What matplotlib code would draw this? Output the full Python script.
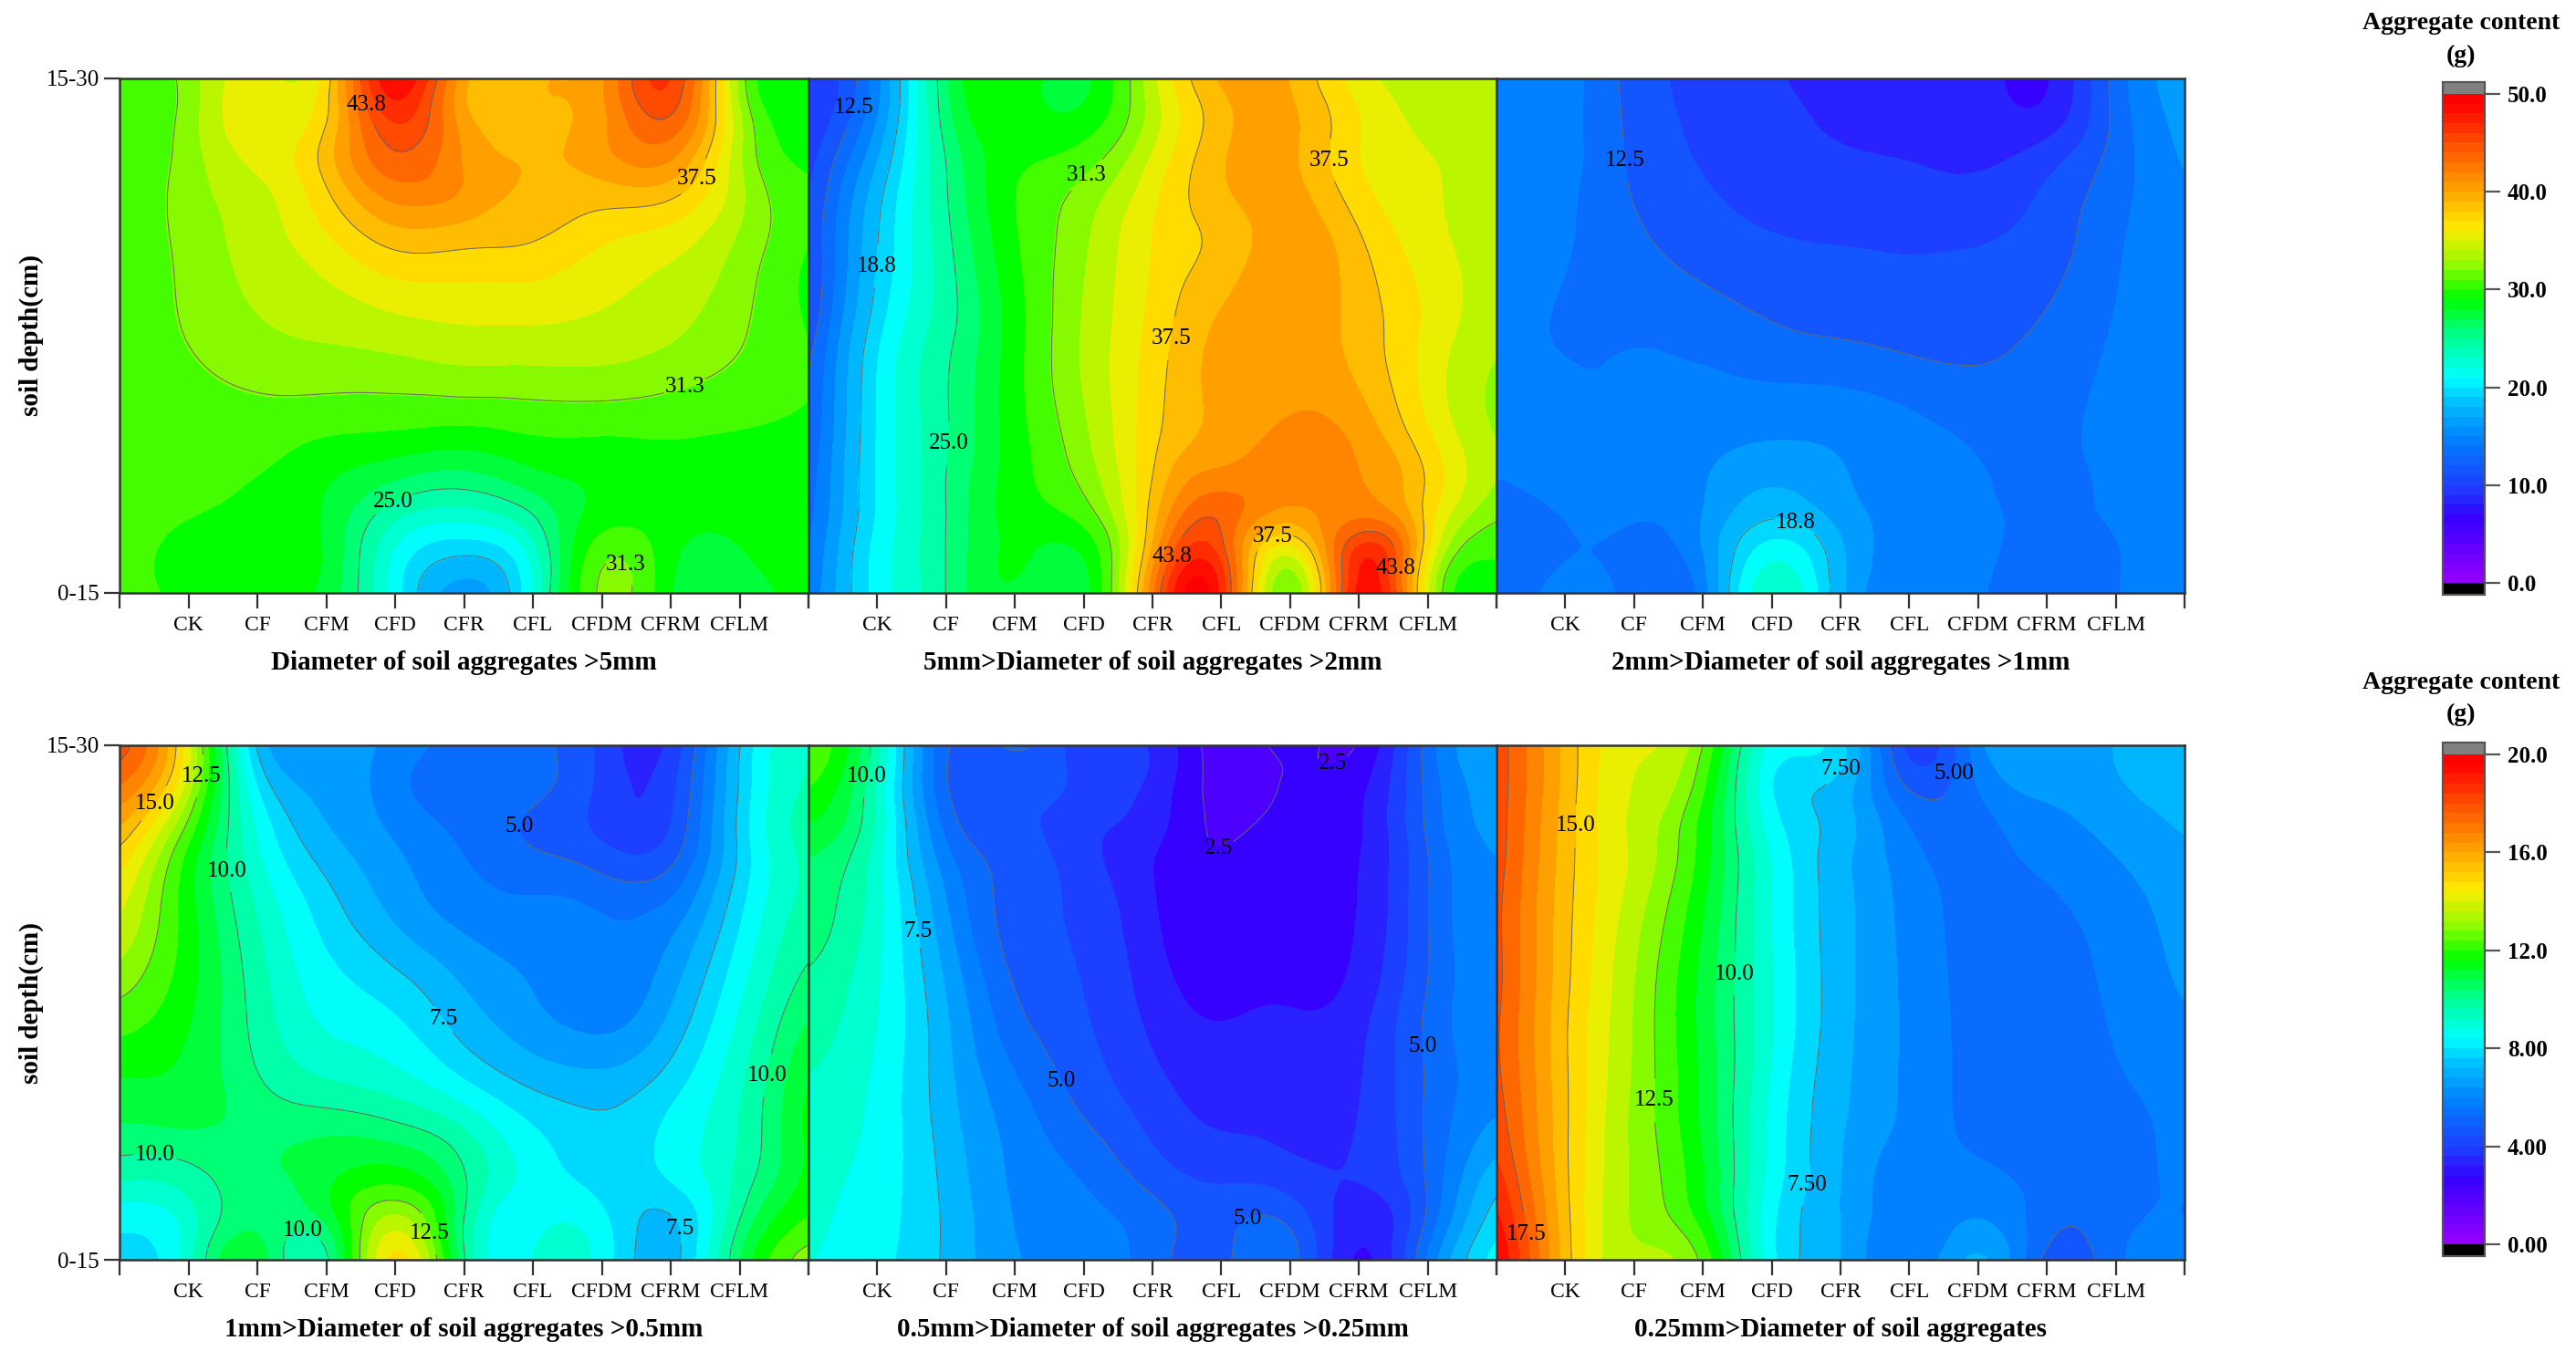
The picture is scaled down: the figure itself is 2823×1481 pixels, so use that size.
import matplotlib
matplotlib.use('Agg')
import matplotlib.pyplot as plt
import matplotlib.tri as mtri
from matplotlib.cm import ScalarMappable
from matplotlib.colors import LinearSegmentedColormap, Normalize, BoundaryNorm
import numpy as np

plt.rcParams['font.family'] = ['Liberation Serif', 'DejaVu Serif']
plt.rcParams['font.weight'] = 'bold'

W, H = 2823, 1481

treatments = ['CK', 'CF', 'CFM', 'CFD', 'CFR', 'CFL', 'CFDM', 'CFRM', 'CFLM']
depth_labels = ['0-15', '15-30']
titles = ['Diameter of soil aggregates >5mm', '5mm>Diameter of soil aggregates >2mm',
          '2mm>Diameter of soil aggregates >1mm', '1mm>Diameter of soil aggregates >0.5mm',
          '0.5mm>Diameter of soil aggregates >0.25mm', '0.25mm>Diameter of soil aggregates']

# sampled columns (0 = left edge, 1-9 treatments, 10 = right edge) and rows (0 bottom, 1 top)
col_pos = np.arange(11)
row_pos = [1.0, 0.92, 0.82, 0.68, 0.5, 0.32, 0.18, 0.08, 0.0]

grid_a = [[30, 32, 35, 36, 49, 39.5, 39, 40, 46, 32, 29],
          [30, 32, 35.5, 37, 46, 39.5, 39, 40, 44, 33, 29],
          [30, 32, 34.5, 38, 43, 40.5, 39, 39.5, 40, 33, 29.5],
          [30, 31.8, 33.5, 35.5, 38, 37.8, 37.5, 36, 35, 32.5, 29.5],
          [30, 31.4, 32.5, 33, 33.5, 34, 34, 33.8, 33, 31.5, 29.5],
          [29.8, 30.2, 30.5, 30, 29.8, 29.5, 30, 30, 30, 29.7, 29.5],
          [29.8, 29.8, 29.5, 28, 25, 24, 26, 28.5, 29, 29, 29],
          [29.8, 29.5, 29.3, 28, 21.5, 19, 22.5, 31, 28.5, 28, 29],
          [29.8, 29.5, 29, 27.5, 21, 16, 22, 32, 28, 27, 29]]

grid_b = [[9, 15, 26.5, 29.5, 27.5, 34, 39.5, 39, 35, 33.5, 33.5],
          [9.5, 15.5, 26, 29, 28.5, 33.5, 38.5, 39.5, 36, 34, 33.5],
          [10, 17.5, 25, 29.5, 31, 35, 39, 39.5, 36, 34.5, 33.5],
          [10.5, 18.8, 24.5, 29.5, 32.5, 36, 38, 40, 37.8, 35, 33.5],
          [11, 20, 24.5, 29, 33, 36.5, 39.5, 40, 38.5, 35.5, 33],
          [12, 20.5, 24.8, 29, 32.5, 37, 39.5, 41, 40, 36, 32.5],
          [12.8, 20.5, 25, 29, 31, 38, 43, 41, 41, 37, 32],
          [13.5, 21, 25, 28.5, 28, 39.5, 45, 34, 47, 36, 30],
          [14, 21, 25, 28, 27, 42, 47, 30, 49, 34, 29.5]]

grid_c = [[15.5, 14.8, 11.8, 10.5, 9.5, 9, 9, 8.7, 7.5, 13.2, 16.5],
          [15.3, 14.7, 12, 10.6, 9.7, 9.2, 9, 8.8, 8.3, 13, 16.2],
          [14.9, 14.6, 12.2, 10.9, 10, 9.7, 9.5, 9.3, 10.7, 13.3, 15.8],
          [14.6, 14.2, 12.9, 11.7, 11.1, 10.9, 10.8, 10.9, 11.7, 13.8, 15.5],
          [14.4, 14, 14, 13.6, 12.8, 12.4, 12, 11.9, 12.9, 14.2, 15.3],
          [14.2, 14.3, 14.3, 15, 15.3, 15.2, 14.5, 13.7, 13.8, 14.3, 15],
          [13.9, 14.2, 14.4, 15.5, 17.8, 16, 15.2, 14.3, 13.9, 14.2, 14.8],
          [13.4, 14, 13.6, 15.5, 21.5, 17.5, 15, 14.4, 13.6, 14, 14.6],
          [13.3, 14.5, 13.4, 14.5, 24, 17.5, 15, 14.4, 12.2, 14, 14.6]]

grid_d = [[18, 14, 7.2, 6.5, 6, 5.5, 5.2, 4.2, 3.8, 7.5, 9.4],
          [17, 13.5, 8, 6.7, 5.8, 5.3, 5.2, 4.2, 4.1, 7.6, 9.5],
          [15.5, 12, 8.7, 7, 6.2, 5.5, 4.9, 4.3, 4.4, 7.7, 9.7],
          [14, 11.5, 9.3, 7.8, 6.7, 6, 5.8, 5.6, 5.8, 8, 9.7],
          [12.5, 11.4, 9.7, 8.5, 8, 7, 6.3, 5.8, 6.8, 8.7, 10.5],
          [11, 11, 10.2, 9.7, 9.3, 8.5, 7.6, 7.3, 8, 9.3, 11.5],
          [9.8, 9.9, 10.5, 11, 11.3, 10, 8.5, 7.8, 8.3, 9.5, 11.5],
          [8.3, 9, 10.5, 10.7, 13.5, 9.9, 8.5, 8.3, 7.3, 10, 12],
          [8, 9, 11.3, 9.5, 15, 10, 8.8, 8.5, 7.1, 10.7, 13]]

grid_e = [[12.5, 9.6, 5, 5.3, 4, 3.7, 2.1, 2.8, 2.4, 5.3, 6.8],
          [12, 9.3, 4.95, 4.6, 4.2, 3.6, 2.2, 2.6, 2.9, 5.2, 6.6],
          [11, 9.2, 5.5, 4.6, 3.9, 3.3, 2.4, 2.9, 3, 5.1, 6.4],
          [10.4, 9, 6.3, 4.7, 4.2, 3.2, 2.6, 2.9, 3.1, 5, 6.3],
          [9.8, 8.8, 6.9, 5.05, 4.4, 3.5, 3, 3.1, 3.4, 5.1, 6.2],
          [9.3, 8.6, 7.1, 5.8, 4.8, 4, 3.5, 3.5, 3.7, 5.1, 6.1],
          [9, 8.5, 7.3, 6.1, 5.5, 4.6, 4.1, 3.9, 3.8, 5.1, 7.2],
          [8.9, 8.4, 7.4, 6.2, 5.8, 5.3, 4.8, 4.9, 3.2, 5.1, 8],
          [8.8, 8.3, 7.4, 6.3, 6, 5.3, 4.8, 5.4, 2.8, 5.8, 8.5]]

grid_f = [[18, 15.4, 13.9, 12.7, 8.5, 7.9, 3.9, 6.2, 6.7, 6.9, 7.3],
          [18, 15.4, 13.7, 12.1, 8, 7.3, 4.8, 5.7, 6.4, 6.8, 7.1],
          [18, 15.3, 13.6, 11.6, 8.5, 7.2, 5.7, 5.4, 5.9, 6.4, 6.9],
          [17.85, 15.2, 13.4, 11.3, 8.7, 7.1, 6, 5.4, 5.5, 5.9, 6.6],
          [17.85, 15.1, 13.1, 11, 8.8, 7.1, 6.1, 5.4, 5.4, 5.7, 6.3],
          [17.9, 15.1, 13, 11.1, 8.6, 7, 6.1, 5.4, 5.3, 5.5, 5.9],
          [18.5, 15.1, 13, 11.3, 8.5, 6.9, 5.8, 5.7, 5.3, 5.4, 5.7],
          [19.2, 15.2, 13, 11.6, 8.2, 6.9, 5.7, 6.3, 5.2, 5.4, 5.6],
          [19.7, 15.3, 13.2, 12.5, 8.2, 6.9, 5.6, 7.2, 4.6, 5.5, 5.7]]

grids = [grid_a, grid_b, grid_c, grid_d, grid_e, grid_f]

levels_top = [12.5, 18.8, 25.0, 31.3, 37.5, 43.8]
levels_bottom = [2.5, 5.0, 7.5, 10.0, 12.5, 15.0, 17.5]

# where the contour labels sit in each panel
label_spots = [
    [(3.6, .95), (8.2, .82), (8.16, .42), (4.03, .16), (7.3, .05)],
    [(.62, .945), (.95, .635), (2.1, .29), (4.13, .8), (5.5, .49), (7.54, .84),
     (5.35, .067), (6.78, .096), (8.26, .05)],
    [(1.84, .84), (4.38, .147)],
    [(.52, .885), (1.15, .94), (1.62, .757), (4.65, .463), (5.68, .843), (.52, .208),
     (2.65, .05), (4.46, .05), (8.1, .06), (9.53, .355)],
    [(.86, .94), (1.5, .636), (3.72, .35), (5.92, .725), (7.64, .95), (8.83, .415), (6.5, .05)],
    [(1.24, .843), (3.37, .556), (2.29, .31), (5.06, .95), (6.49, .95), (4.37, .15), (.5, .05)],
]

cmap = LinearSegmentedColormap.from_list('rb', [
    (0.0, (160/255, 0, 1)), (0.14, (55/255, 0, 1)), (0.2, (30/255, 60/255, 1)),
    (0.3, (0, 130/255, 1)), (0.38, (0, 200/255, 1)), (0.42, (0, 1, 1)),
    (0.5, (0, 1, 150/255)), (0.58, (0, 1, 0)), (0.65, (150/255, 250/255, 0)),
    (0.72, (1, 235/255, 0)), (0.8, (1, 160/255, 0)), (0.9, (1, 70/255, 0)),
    (0.97, (1, 0, 0)), (1.0, (1, 0, 0))], N=256)
cmap.set_over('#808080')
cmap.set_under('black')

fig = plt.figure(figsize=(W/100, H/100), dpi=100)


def px_axes(x0, y0, x1, y1):
    return fig.add_axes([x0/W, 1-y1/H, (x1-x0)/W, (y1-y0)/H])


def soften(field, sx, sy):
    # light gaussian pass so the surface has no triangle facets
    for axis, s in ((1, sx), (0, sy)):
        half = int(3*s)
        k = np.exp(-0.5*(np.arange(-half, half+1)/s)**2)
        k /= k.sum()
        pad = [(0, 0), (0, 0)]
        pad[axis] = (half, half)
        padded = np.pad(field, pad, mode='edge')
        field = np.apply_along_axis(lambda m: np.convolve(m, k, mode='valid'), axis, padded)
    return field


panel_x = [131, 886, 1640, 2394]
panel_y = [(86, 650), (817, 1381)]

X, Y = np.meshgrid(col_pos, row_pos)
tri = mtri.Triangulation(X.ravel(), Y.ravel())
xg = np.linspace(1e-6, 10-1e-6, 601)
yg = np.linspace(1e-6, 1-1e-6, 401)
xx, yy = np.meshgrid(xg, yg)

for i in range(6):
    r, c = i // 3, i % 3
    ax = px_axes(panel_x[c], panel_y[r][0], panel_x[c+1], panel_y[r][1])
    vmax = 50 if r == 0 else 20
    z = np.array(grids[i], dtype=float).ravel()
    interp = mtri.CubicTriInterpolator(tri, z, kind='min_E')
    zz = soften(np.asarray(interp(xx, yy)), 12, 8)

    fill_levels = np.linspace(0, vmax, 33)
    ax.contourf(xg, yg, zz, levels=fill_levels, cmap=cmap,
                norm=Normalize(0, vmax), extend='both')
    lines = levels_top if r == 0 else levels_bottom
    lines = [v for v in lines if zz.min() < v < zz.max()]
    cs = ax.contour(xg, yg, zz, levels=lines, colors='#666666', linewidths=0.7)
    fmt = {v: '%.1f' % v for v in lines}
    if i == 5:
        fmt[7.5] = '7.50'
        fmt[5.0] = '5.00'
    labs = ax.clabel(cs, manual=label_spots[i], inline=True, inline_spacing=2, fmt=fmt,
                     fontsize=18, colors='black')
    for t in labs:
        t.set_rotation(0)
        t.set_fontweight('normal')

    ax.set_xlim(0, 10)
    ax.set_ylim(0, 1)
    ax.set_xticks(col_pos)
    ax.set_xticklabels([''] + treatments + [''], fontsize=17, fontweight='normal')
    ax.tick_params(axis='x', length=12, width=1.6, color='#333333', pad=6)
    if c == 0:
        ax.set_yticks([0, 1])
        ax.set_yticklabels(depth_labels, fontsize=18, fontweight='normal')
        ax.tick_params(axis='y', length=12, width=1.6, color='#333333', pad=4)
        ax.set_ylabel('soil depth(cm)', fontsize=21, fontweight='bold', labelpad=2)
    else:
        ax.set_yticks([])
    for s in ax.spines.values():
        s.set_linewidth(1.8)
        s.set_color('#333333')
    ax.set_xlabel(titles[i], fontsize=21, fontweight='bold', labelpad=12)

# colour bars on the right
cbar_spots = [(90, 652, 50, [0, 10, 20, 30, 40, 50], ['0.0', '10.0', '20.0', '30.0', '40.0', '50.0'], 26),
              (814, 1377, 20, [0, 4, 8, 12, 16, 20], ['0.00', '4.00', '8.00', '12.0', '16.0', '20.0'], 748)]
for top, bottom, vmax, ticks, ticklabels, title_y in cbar_spots:
    cax = px_axes(2677, top, 2723, bottom)
    norm = BoundaryNorm(np.linspace(0, vmax, 51), cmap.N, extend='both')
    cb = fig.colorbar(ScalarMappable(norm=norm, cmap=cmap), cax=cax, extend='both',
                      extendrect=True, extendfrac=0.024, spacing='uniform', ticks=ticks)
    cb.ax.set_yticklabels(ticklabels, fontsize=18, fontweight='bold')
    cb.ax.minorticks_off()
    cb.ax.tick_params(length=12, width=1.6, color='#555555', pad=6)
    cb.outline.set_linewidth(1.6)
    cb.outline.set_edgecolor('#555555')
    fig.text(2697/W, 1-title_y/H, 'Aggregate content', ha='center', va='center',
             fontsize=20, fontweight='bold')
    fig.text(2697/W, 1-(title_y+35)/H, '(g)', ha='center', va='center',
             fontsize=20, fontweight='bold')

fig.savefig('out.png', dpi=100)
